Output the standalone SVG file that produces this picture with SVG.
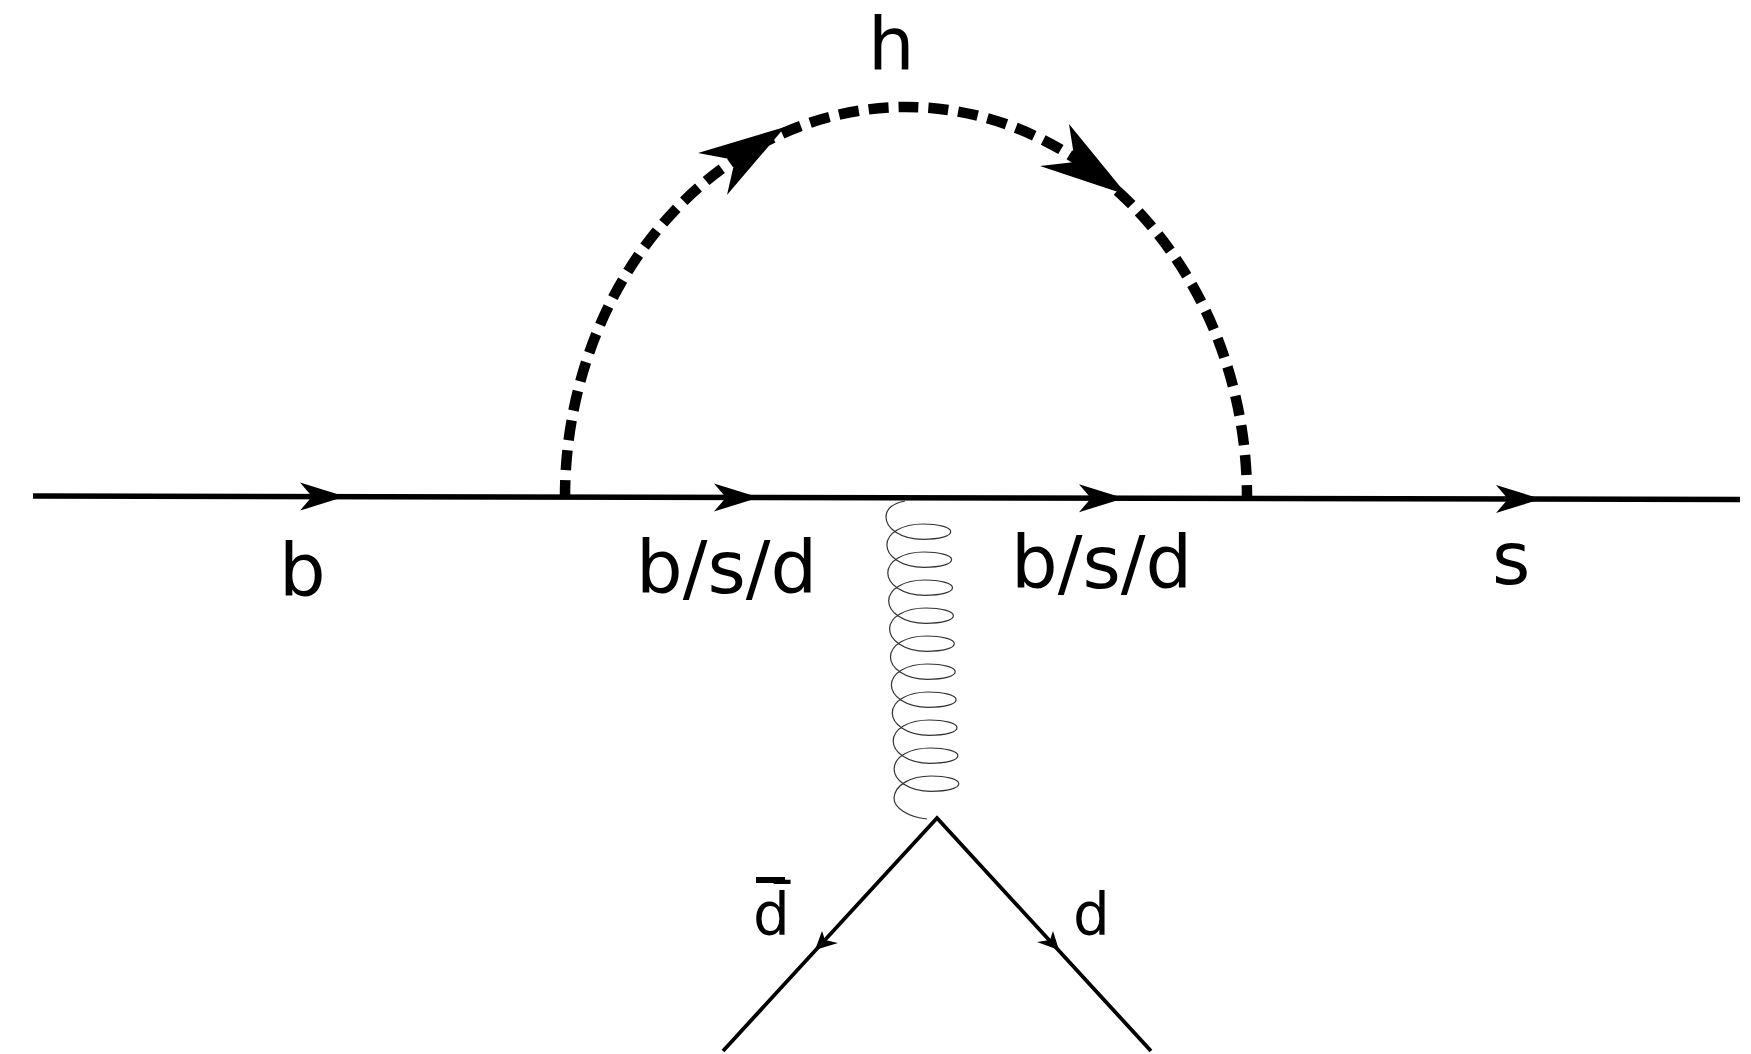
<svg xmlns="http://www.w3.org/2000/svg" width="1751" height="1054" viewBox="0 0 1751 1054">
<style>
text{font-family:"DejaVu Sans",sans-serif;fill:#000}
.big{font-size:73.5px}.small{font-size:58px}
.fermion{fill:none;stroke:#000;stroke-width:5.5}
.quark{fill:none;stroke:#000;stroke-width:3.8}
.higgs{fill:none;stroke:#000;stroke-width:10.5;stroke-dasharray:20 10;stroke-dashoffset:3}
.gluon{fill:none;stroke:#333;stroke-width:1.2}
</style>
<defs>
<polygon id="head" points="0,0 -45,-14 -33,0 -45,14" fill="#000"/>
</defs>
<rect width="1751" height="1054" fill="#fff"/>
<g id="connectors">
<path id="fermion-line" class="fermion" d="M33,496 L1740,499.5"/>
<use href="#head" x="345" y="496.6"/>
<use href="#head" x="759" y="497.5"/>
<use href="#head" x="1124" y="498.2"/>
<use href="#head" x="1541" y="499"/>
<path id="higgs-loop" class="higgs" d="M565,497 A341,390 0 0 1 1247,497"/>
<polygon points="785,127 698,153 735,160 727,195" fill="#000"/>
<polygon points="1127,195 1069,124 1075,162 1040,166" fill="#000"/>
<path id="gluon" class="gluon" d="M905,501 C893,503 886,509 886,517 C886,528 900,539.3 923,539.3 C940,539.3 950.7,536 950.7,531.7 C950.7,527 938,524 923,524 C902,524 887,533 886.9,545 C886.9,556 900.9,567.3 923.9,567.3 C940.9,567.3 951.6,564 951.6,559.7 C951.6,555 938.9,552 923.9,552 C902.9,552 887.9,561 887.8,573 C887.8,584 901.8,595.3 924.8,595.3 C941.8,595.3 952.5,592 952.5,587.7 C952.5,583 939.8,580 924.8,580 C903.8,580 888.8,589 888.7,601 C888.7,612 902.7,623.3 925.7,623.3 C942.7,623.3 953.4,620 953.4,615.7 C953.4,611 940.7,608 925.7,608 C904.7,608 889.7,617 889.6,629 C889.6,640 903.6,651.3 926.6,651.3 C943.6,651.3 954.3,648 954.3,643.7 C954.3,639 941.6,636 926.6,636 C905.6,636 890.6,645 890.5,657 C890.5,668 904.5,679.3 927.5,679.3 C944.5,679.3 955.2,676 955.2,671.7 C955.2,667 942.5,664 927.5,664 C906.5,664 891.5,673 891.4,685 C891.4,696 905.4,707.3 928.4,707.3 C945.4,707.3 956.1,704 956.1,699.7 C956.1,695 943.4,692 928.4,692 C907.4,692 892.4,701 892.3,713 C892.3,724 906.3,735.3 929.3,735.3 C946.3,735.3 957,732 957,727.7 C957,723 944.3,720 929.3,720 C908.3,720 893.3,729 893.2,741 C893.2,752 907.2,763.3 930.2,763.3 C947.2,763.3 957.9,760 957.9,755.7 C957.9,751 945.2,748 930.2,748 C909.2,748 894.2,757 894.1,769 C894.1,780 908.1,791.3 931.1,791.3 C948.1,791.3 958.8,788 958.8,783.7 C958.8,779 946.1,776 931.1,776 C910.1,776 895,785 894,798 C894,808 908,817 927,819"/>
<path id="quark-lines" class="quark" d="M723,1051 L937,818 L1151,1051"/>
<polygon points="815,950 822,931 825,940 838,943" fill="#000"/>
<polygon points="1059,950 1053,931 1050,940 1037,942" fill="#000"/>
</g>
<g id="label-h"><text class="big" x="868" y="70">h</text></g>
<g id="label-b"><text class="big" x="279" y="596">b</text></g>
<g id="label-bsd-left"><text class="big" x="636" y="593">b/s/d</text></g>
<g id="label-bsd-right"><text class="big" x="1011" y="588">b/s/d</text></g>
<g id="label-s"><text class="big" x="1492" y="584">s</text></g>
<g id="label-dbar"><text class="small" x="753" y="935">d̄</text><rect x="756" y="877" width="29" height="6" fill="#000"/></g>
<g id="label-d"><text class="small" x="1073" y="935">d</text></g>
</svg>
